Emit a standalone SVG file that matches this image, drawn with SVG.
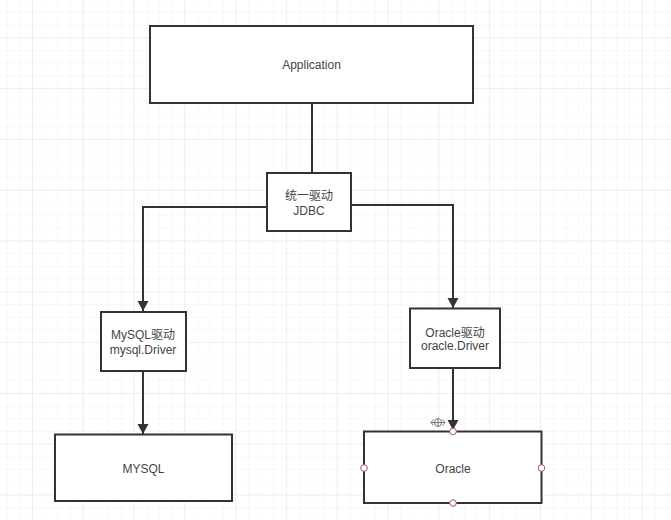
<svg xmlns="http://www.w3.org/2000/svg" width="671" height="520" viewBox="0 0 671 520">
<defs>
<pattern id="minor" x="6.7" y="11.9" width="12.7" height="12.7" patternUnits="userSpaceOnUse">
<path d="M0 0H12.7M0 0V12.7" fill="none" stroke="#f1f1f1" stroke-width="1"/>
</pattern>
<pattern id="major" x="31.9" y="37.3" width="50.8" height="50.8" patternUnits="userSpaceOnUse">
<path d="M0 0H50.8M0 0V50.8" fill="none" stroke="#e6e6e6" stroke-width="1"/>
</pattern>
<marker id="arrow" viewBox="0 0 10 14" refX="10" refY="7" markerWidth="10" markerHeight="14" markerUnits="userSpaceOnUse" orient="auto">
<path d="M0 1.5L10 7L0 12.5Z" fill="#333"/>
</marker>
</defs>
<style>
.box{fill:#fff;stroke:#333;stroke-width:2}
.lbl{font-family:"Liberation Sans","Noto Sans CJK SC",sans-serif;font-size:12px;fill:#444;text-anchor:middle}
.edge{fill:none;stroke:#333;stroke-width:2}
.port{fill:#fff;stroke:#a05a64;stroke-width:1}
</style>
<rect width="671" height="520" fill="#fff"/>
<rect width="671" height="520" fill="url(#minor)"/>
<rect width="671" height="520" fill="url(#major)"/>
<g id="connectors">
<path class="edge" d="M312 103V173"/>
<path class="edge" d="M267 207H143V311" marker-end="url(#arrow)"/>
<path class="edge" d="M351 205H453V308" marker-end="url(#arrow)"/>
<path class="edge" d="M143 371V434" marker-end="url(#arrow)"/>
<path class="edge" d="M453 368V430" marker-end="url(#arrow)"/>
</g>
<g id="application">
<rect class="box" x="150" y="26" width="323" height="77"/>
<text class="lbl" x="311.5" y="68.5">Application</text>
</g>
<g id="jdbc">
<rect class="box" x="267" y="173" width="84" height="58"/>
<text class="lbl" x="309" y="200">统一驱动</text>
<text class="lbl" x="309" y="215">JDBC</text>
</g>
<g id="mysql-driver">
<rect class="box" x="101" y="312" width="85" height="59"/>
<text class="lbl" x="143" y="338.5">MySQL驱动</text>
<text class="lbl" x="143" y="353.5">mysql.Driver</text>
</g>
<g id="oracle-driver">
<rect class="box" x="410" y="308.5" width="90" height="59.5"/>
<text class="lbl" x="455" y="336.5">Oracle驱动</text>
<text class="lbl" x="455" y="349.5">oracle.Driver</text>
</g>
<g id="mysql">
<rect class="box" x="55" y="434.5" width="177" height="66.5"/>
<text class="lbl" x="143.5" y="472.5">MYSQL</text>
</g>
<g id="oracle">
<rect class="box" x="364" y="431.5" width="177.5" height="71.5"/>
<text class="lbl" x="453" y="472.5">Oracle</text>
<circle class="port" cx="453" cy="431.5" r="3.3"/>
<circle class="port" cx="364" cy="468" r="3.3"/>
<circle class="port" cx="541.5" cy="468" r="3.3"/>
<circle class="port" cx="453" cy="503" r="3.3"/>
<g fill="none" stroke="#777" stroke-width="1">
<ellipse cx="438" cy="422.5" rx="3.5" ry="4"/>
<path d="M431 422.5h14M438 418v9M433.5 419.5l-2.5 3 2.5 3M442.5 419.5l2.5 3-2.5 3"/>
</g>
</g>
</svg>
